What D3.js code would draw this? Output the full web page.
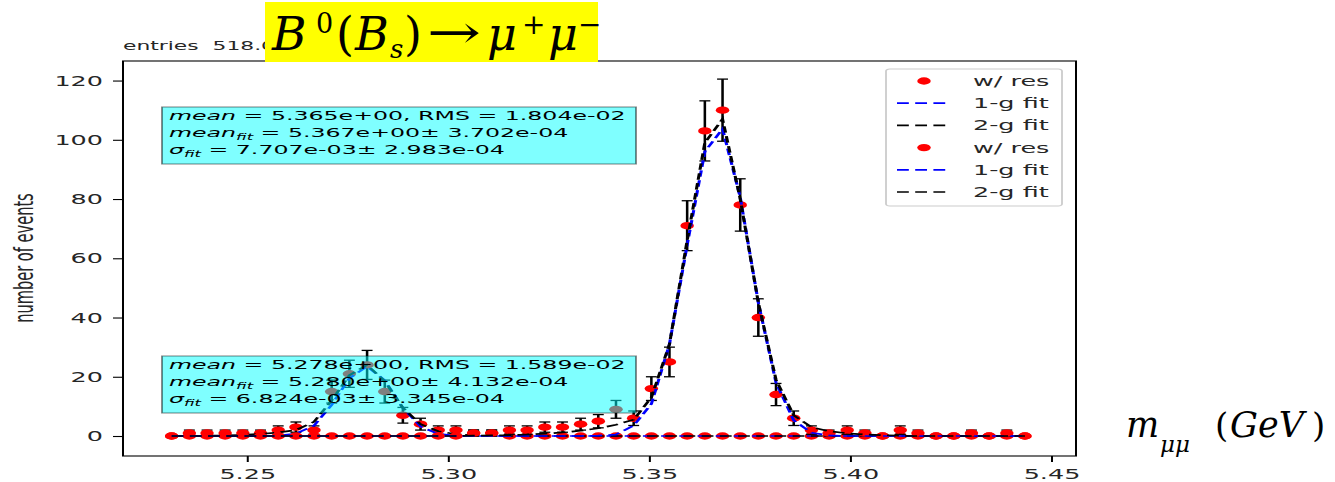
<!DOCTYPE html>
<html><head><meta charset="utf-8">
<script src="https://cdn.jsdelivr.net/npm/d3@7"></script>
<style>
html,body{margin:0;padding:0;background:#fff;}
svg{display:block;}
text{white-space:pre;}
</style></head><body>
<svg id="chart" width="1335" height="482"></svg>
<script>
// ---------------- data ----------------
const binCenters = [5.2313,5.2357,5.2401,5.2446,5.2490,5.2534,5.2578,5.2622,5.2667,5.2711,
  5.2755,5.2799,5.2843,5.2888,5.2932,5.2976,5.3020,5.3064,5.3109,5.3153,
  5.3197,5.3241,5.3285,5.3330,5.3374,5.3418,5.3462,5.3506,5.3551,5.3595,
  5.3639,5.3683,5.3727,5.3772,5.3816,5.3860,5.3904,5.3948,5.3993,5.4037,
  5.4081,5.4125,5.4169,5.4214,5.4258,5.4302,5.4346,5.4390,5.4435];
// B0 sample
const b0Counts = [0,1,1,1,1,1,2,3,2,15, 21,24,15,7,4,2,2,1,1,0,
  0,0,0,0,0,0,0,0,0,0, 0,0,0,0,0,0,0,0,0,0, 0,0,0,0,0,0,0,0,0];
const b0Fit1g = [0,0,0,0,0,0,0.1,0.8,3.5,10.5, 19.5,23.5,18.8,9.5,3.2,0.7,0.1,0,0,0,
  0,0,0,0,0,0,0,0,0,0, 0,0,0,0,0,0,0,0,0,0, 0,0,0,0,0,0,0,0,0];
const b0Fit2g = [0,0,0.1,0.2,0.4,0.7,1.2,2.0,4.8,12, 20.5,24,18.5,9.5,4,1.6,0.6,0.2,0,0,
  0,0,0,0,0,0,0,0,0,0, 0,0,0,0,0,0,0,0,0,0, 0,0,0,0,0,0,0,0,0];
// Bs sample
const bsCounts = [0,0,0,0,0,0,0,0,0,0, 0,0,0,0,0,0,0,1,1,2,
  2,3,3,4,5,9,6,16,25,71, 103,110,78,40,14,6,2,1,2,1, 0,2,1,0,0,1,0,1,0];
const bsFit1g = [0,0,0,0,0,0,0,0,0,0, 0,0,0,0,0,0,0,0,0,0,
  0,0,0,0,0.1,0.5,3.5,10.8,31,64.5, 96,103.7,80.6,45,18,5.3,1.1,0.2,0,0, 0,0,0,0,0,0,0,0,0];
const bsFit2g = [0,0,0,0,0,0,0,0,0,0, 0,0,0,0,0,0,0,0.1,0.2,0.3,
  0.5,0.8,1.2,1.8,2.6,3.8,5.5,13,31,66, 99,107,80,45,19,7,3,1.6,0.9,0.5, 0.3,0.1,0,0,0,0,0,0,0];

const xTicks = [5.25, 5.30, 5.35, 5.40, 5.45];
const yTicks = [0, 20, 40, 60, 80, 100, 120];
const legendLabels = ["w/ res", "1-g fit", "2-g fit", "w/ res", "1-g fit", "2-g fit"];
const titleText = "entries  518.0";
const yLabel = "number of events";
const statsBs = [
  [["mean",1],[" = 5.365e+00, RMS = 1.804e-02",0]],
  [["mean",1],["fit",2],[" = 5.367e+00\u00b1 3.702e-04",0]],
  [["\u03c3",1],["fit",2],[" = 7.707e-03\u00b1 2.983e-04",0]]
];
const statsB0 = [
  [["mean",1],[" = 5.278e+00, RMS = 1.589e-02",0]],
  [["mean",1],["fit",2],[" = 5.280e+00\u00b1 4.132e-04",0]],
  [["\u03c3",1],["fit",2],[" = 6.824e-03\u00b1 3.345e-04",0]]
];

// ---------------- layout ----------------
const SX = 1.82;               // horizontal stretch of the original figure
const F = {left:123, right:1076, top:61, bottom:456};
const svg = d3.select("#chart");
const g = svg.append("g").attr("transform", `scale(${SX},1)`);

const x = d3.scaleLinear().domain([5.2192, 5.4562]).range([F.left/SX, F.right/SX]);
const y = d3.scaleLinear().domain([-6.75, 126.6]).range([F.bottom, F.top]);

// axes
const xAxis = g.append("g").attr("transform", `translate(0,${F.bottom})`)
  .call(d3.axisBottom(x).tickValues(xTicks).tickFormat(d3.format(".2f")).tickSize(6).tickPadding(7));
const yAxis = g.append("g").attr("transform", `translate(${F.left/SX},0)`)
  .call(d3.axisLeft(y).tickValues(yTicks).tickFormat(d3.format("d")).tickSize(10/SX).tickPadding(10/SX));
[xAxis, yAxis].forEach(a => {
  a.select(".domain").remove();
  a.selectAll(".tick line").attr("stroke", "#000").attr("stroke-width", 1.1);
  a.selectAll(".tick text").attr("font-family", "DejaVu Sans").attr("font-size", 14).attr("fill", "#262626");
});

// series
function drawSeries(counts, fit1, fit2) {
  const pts = binCenters.map((c, i) => ({c, n: counts[i]}));
  const eb = g.append("g").attr("stroke", "#000");
  const nz = pts.filter(d => d.n > 0);
  eb.selectAll("line.v").data(nz).join("line").attr("class", "v")
    .attr("x1", d => x(d.c)).attr("x2", d => x(d.c))
    .attr("y1", d => y(d.n - Math.sqrt(d.n))).attr("y2", d => y(d.n + Math.sqrt(d.n)))
    .attr("stroke-width", 1.4);
  ["lo", "hi"].forEach(k => {
    eb.selectAll("line." + k).data(nz).join("line").attr("class", k)
      .attr("x1", d => x(d.c) - 3).attr("x2", d => x(d.c) + 3)
      .attr("y1", d => y(k === "lo" ? d.n - Math.sqrt(d.n) : d.n + Math.sqrt(d.n)))
      .attr("y2", d => y(k === "lo" ? d.n - Math.sqrt(d.n) : d.n + Math.sqrt(d.n)))
      .attr("stroke-width", 1.3);
  });
  g.append("g").selectAll("circle").data(pts).join("circle")
    .attr("cx", d => x(d.c)).attr("cy", d => y(d.n)).attr("r", 3.7).attr("fill", "#ff0000");
  const line = d3.line().x((d, i) => x(binCenters[i])).y(d => y(d));
  g.append("path").datum(fit1).attr("d", line).attr("fill", "none")
    .attr("stroke", "#0000ff").attr("stroke-width", 1.7).attr("stroke-dasharray", "6.5,3.5");
  g.append("path").datum(fit2).attr("d", line).attr("fill", "none")
    .attr("stroke", "#000").attr("stroke-width", 1.7).attr("stroke-dasharray", "6.5,3.5");
}
drawSeries(b0Counts, b0Fit1g, b0Fit2g);
drawSeries(bsCounts, bsFit1g, bsFit2g);

// frame
g.append("rect").attr("x", F.left/SX).attr("y", F.top)
  .attr("width", (F.right - F.left)/SX).attr("height", F.bottom - F.top)
  .attr("fill", "none").attr("stroke", "#000").attr("stroke-width", 1.1);

// stats boxes
function statsBox(top, lines) {
  g.append("rect").attr("x", 162/SX).attr("y", top).attr("width", (636-162)/SX).attr("height", 57)
    .attr("fill", "#00ffff").attr("fill-opacity", 0.5)
    .attr("stroke", "#000").attr("stroke-opacity", 0.5).attr("stroke-width", 1);
  lines.forEach((segs, i) => {
    const t = g.append("text").attr("x", 169/SX).attr("y", top + 13 + i*17.2)
      .attr("font-family", "DejaVu Sans").attr("font-size", 13).attr("fill", "#000");
    let shifted = false;
    segs.forEach(([s, kind]) => {
      const ts = t.append("tspan").text(s);
      if (kind === 1) ts.attr("font-style", "italic");
      if (kind === 2) { ts.attr("font-style", "italic").attr("font-size", 9).attr("dy", 3); shifted = true; }
      else if (shifted) { ts.attr("dy", -3); shifted = false; }
    });
  });
}
statsBox(107, statsBs);
statsBox(356, statsB0);

// legend
const L = {x0: 886/SX, y0: 69, w: (1062-886)/SX, h: 137};
g.append("rect").attr("x", L.x0).attr("y", L.y0).attr("width", L.w).attr("height", L.h)
  .attr("rx", 2).attr("fill", "#fff").attr("fill-opacity", 0.8).attr("stroke", "#cccccc").attr("stroke-width", 1);
const lg = g.append("g").selectAll("g").data(legendLabels).join("g")
  .attr("transform", (d, i) => `translate(0,${81 + i*22.2})`);
lg.each(function(d, i) {
  const s = d3.select(this);
  if (i % 3 === 0) s.append("circle").attr("cx", 924/SX).attr("cy", 0).attr("r", 3.7).attr("fill", "#ff0000");
  else s.append("line").attr("x1", 897/SX).attr("x2", 950/SX).attr("y1", 0).attr("y2", 0)
    .attr("stroke", i % 3 === 1 ? "#0000ff" : "#000").attr("stroke-width", 1.7).attr("stroke-dasharray", "6.5,3.5");
  s.append("text").attr("x", 973/SX).attr("y", 5).text(d)
    .attr("font-family", "DejaVu Sans").attr("font-size", 14).attr("fill", "#262626");
});

// title and y label
g.append("text").attr("x", F.left/SX).attr("y", 50).text(titleText)
  .attr("font-family", "DejaVu Sans").attr("font-size", 12).attr("fill", "#262626");
g.append("text").attr("transform", `translate(${33/SX},258) rotate(-90)`).attr("text-anchor", "middle")
  .text(yLabel).attr("font-family", "DejaVu Sans").attr("font-size", 14.6).attr("fill", "#262626");

// ---------------- overlays (not stretched) ----------------
svg.append("rect").attr("x", 265).attr("y", 2).attr("width", 333).attr("height", 60).attr("fill", "#ffff00");
const tt = svg.append("g").attr("font-family", "DejaVu Serif").attr("fill", "#000");
const titleParts = [
  ["B", 272, 50, 47, "italic"], ["0", 316, 33, 27, "normal"], ["(", 336, 50, 46, "normal"],
  ["B", 355, 50, 46, "italic"], ["s", 390, 58, 26, "italic"], [")", 404, 50, 46, "normal"],
  ["\u2192", 427, 48, 46, "normal"], ["\u03bc", 487, 50, 46, "italic"], ["+", 522, 34, 28, "normal"],
  ["\u03bc", 548, 50, 46, "italic"], ["\u2212", 578, 34, 28, "normal"]
];
titleParts.forEach(([s, px, py, fs, st]) => {
  const t = tt.append("text").attr("x", px).attr("y", py).attr("font-size", fs).attr("font-style", st).text(s);
  if (s === "\u2192") t.attr("textLength", 54).attr("lengthAdjust", "spacingAndGlyphs");
});
const xl = svg.append("g").attr("font-family", "DejaVu Serif").attr("fill", "#000");
const xlabParts = [
  ["m", 1126, 437, 35, "italic"], ["\u03bc\u03bc", 1160, 452, 23, "italic"],
  ["(", 1215, 437, 34, "normal"], ["GeV", 1230, 437, 35, "italic"], [")", 1312, 437, 34, "normal"]
];
xlabParts.forEach(([s, px, py, fs, st]) => {
  xl.append("text").attr("x", px).attr("y", py).attr("font-size", fs).attr("font-style", st).text(s);
});
</script>
</body></html>
